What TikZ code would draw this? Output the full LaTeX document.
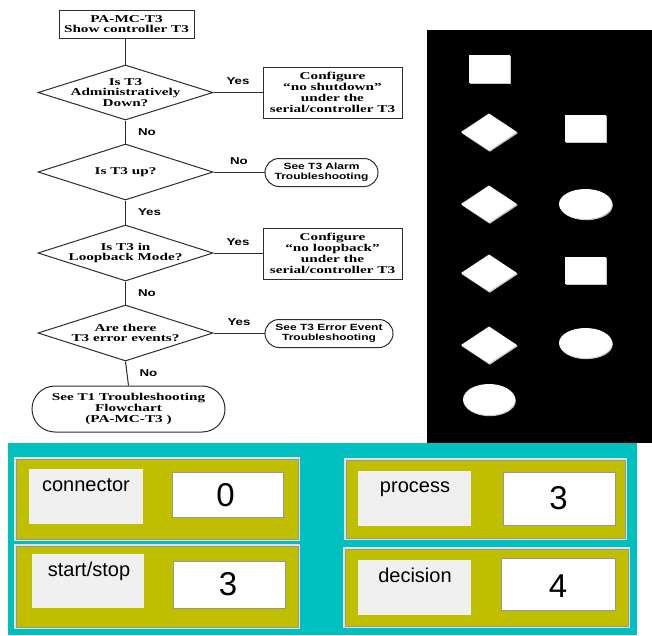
\documentclass[tikz,border=0pt]{standalone}
\usepackage{fontspec}
\usetikzlibrary{shapes.geometric}
\newfontfamily\fcserif[FakeStretch=1.45]{Liberation Serif}
\newfontfamily\fcsans[FakeStretch=1.33]{Liberation Sans}
\newfontfamily\uisans{Liberation Sans}
\definecolor{panelcyan}{RGB}{0,191,191}
\definecolor{panelolive}{RGB}{191,191,0}
\definecolor{labelgray}{RGB}{240,240,240}
\definecolor{flowline}{RGB}{45,45,45}
\definecolor{framegray}{RGB}{150,150,150}
\newcommand\legendrect[2]{%
  \fill[legendshadow] ([shift={(0.8,1.2)}]#1) rectangle ([shift={(0.8,1.2)}]#2);
  \fill[legend] (#1) rectangle (#2);}
\newcommand\legenddiamond[1]{%
  \fill[legendshadow] ([shift={(0.8,1.2)}]#1) +(-28,0) -- +(0,-18.5) -- +(28,0) -- +(0,18.5) -- cycle;
  \fill[legend] (#1) +(-28,0) -- +(0,-18.5) -- +(28,0) -- +(0,18.5) -- cycle;}
\newcommand\legendoval[3]{%
  \fill[legendshadow] ([shift={(0.8,1.2)}]#1) ellipse [x radius=#2, y radius=#3];
  \fill[legend] (#1) ellipse [x radius=#2, y radius=#3];}
\newcommand\counterpanel[6]{%
  \draw[panel] (#1) rectangle (#2);
  \draw[panelinner] ([shift={(1.2,1.2)}]#1) rectangle ([shift={(-1.2,-1.2)}]#2);
  \fill[labelbox] (#3) rectangle (#4);
  \draw[valuebox] (#5) rectangle (#6);}
\begin{document}
\begin{tikzpicture}[x=1pt,y=-1pt,
  flow/.style={draw=flowline, line width=1pt},
  serifbold/.style={font=\fcserif\bfseries\fontsize{10.5}{10.5}\selectfont, align=center},
  sansbold/.style={font=\fcsans\bfseries\fontsize{9}{10}\selectfont, align=center},
  procbox/.style={flow, rectangle, inner sep=0pt, serifbold},
  decision/.style={flow, diamond, aspect=3.18, minimum width=175pt, minimum height=55pt, inner sep=0pt},
  dtext/.style={serifbold, inner sep=0pt},
  termsmall/.style={flow, rectangle, rounded corners=14pt, minimum height=28pt, inner sep=0pt, sansbold},
  termbig/.style={flow, rectangle, rounded corners=23pt, minimum width=193pt, minimum height=46pt, inner sep=0pt, serifbold},
  yn/.style={font=\fcsans\bfseries\fontsize{10}{10}\selectfont, inner sep=1pt},
  legend/.style={fill=white},
  legendshadow/.style={fill=black!22},
  panel/.style={fill=panelolive, draw=white!88!black, line width=1.3pt},
  panelinner/.style={draw=framegray, line width=0.6pt},
  labelbox/.style={fill=labelgray},
  valuebox/.style={fill=white, draw=framegray, line width=1pt},
  uilabel/.style={font=\uisans\fontsize{20}{24}\selectfont, inner sep=0pt, anchor=base},
  uivalue/.style={font=\uisans\fontsize{33}{36}\selectfont, inner sep=0pt}
]
\useasboundingbox (0,0) rectangle (652,635);
\fill[white] (0,0) rectangle (652,635);

% ---------------- flowchart ----------------
\node[procbox, minimum width=135pt, minimum height=28pt] (start) at (126.5,24) {PA-MC-T3\\Show controller T3};

\node[decision, label={[dtext]center:{Is T3\\Administratively\\Down?}}] (d1) at (125.5,92.5) {};
\node[decision, minimum height=56pt, label={[dtext]center:{Is T3 up?}}] (d2) at (125.5,172) {};
\node[decision, minimum height=56pt, label={[dtext]center:{Is T3 in\\Loopback Mode?}}] (d3) at (125.5,253) {};
\node[decision, minimum height=56pt, label={[dtext]center:{Are there\\T3 error events?}}] (d4) at (125.5,333) {};

\node[procbox, minimum width=139pt, minimum height=51pt, font=\fcserif\bfseries\fontsize{10.5}{11}\selectfont] (cfg1) at (332.5,92.5)
  {Configure\\“no shutdown”\\under the\\serial/controller T3};
\node[procbox, minimum width=139pt, minimum height=51pt, font=\fcserif\bfseries\fontsize{10.5}{11}\selectfont] (cfg2) at (332.5,253.5)
  {Configure\\“no loopback”\\under the\\serial/controller T3};

\node[termsmall, minimum width=113pt] (alarm) at (321.5,172.5) {See T3 Alarm\\Troubleshooting};
\node[termsmall, minimum width=128pt] (errev) at (329,333.5) {See T3 Error Event\\Troubleshooting};
\node[termbig, font=\fcserif\bfseries\fontsize{10.5}{11}\selectfont] (t1) at (128.5,409) {See T1 Troubleshooting\\Flowchart\\(PA-MC-T3 )};

\draw[flow] (start.south -| d1.north) -- (d1.north);
\draw[flow] (d1.east) -- node[yn, above=6pt] {Yes} (cfg1.west);
\draw[flow] (d1.south) -- node[yn, right, xshift=11pt] {No} (d2.north);
\draw[flow] (d2.east) -- node[yn, above=6pt] {No} (d2.east -| alarm.west);
\draw[flow] (d2.south) -- node[yn, right, xshift=11pt] {Yes} (d3.north);
\draw[flow] (d3.east) -- node[yn, above=6pt] {Yes} (d3.east -| cfg2.west);
\draw[flow] (d3.south) -- node[yn, right, xshift=11pt] {No} (d4.north);
\draw[flow] (d4.east) -- node[yn, above=6pt] {Yes} (d4.east -| errev.west);
\draw[flow] (d4.south) -- node[yn, right, xshift=11pt] {No} (t1.north);

% ---------------- shape legend ----------------
\fill[black] (427,30) rectangle (652,443);
\legendrect{469,55}{510,83}
\legenddiamond{489,132}
\legendrect{565,115}{606,142}
\legenddiamond{489,204}
\legendoval{585.5,204}{26.5}{15}
\legenddiamond{489,273}
\legendrect{565,257}{606,284}
\legenddiamond{489,345}
\legendoval{585.5,343}{26.5}{15}
\legendoval{489,399.5}{26}{15.5}

% ---------------- counters ----------------
\fill[panelcyan] (8,443) rectangle (637,635);
\counterpanel{15,458}{299,540}{29,469}{143,524}{172,472}{283,517}
\counterpanel{15,545}{299,628}{32,554}{144,608}{173,561}{285,608}
\counterpanel{345,459}{626,539}{358,471}{471,526}{503,472}{615,525}
\counterpanel{344,548}{629,627}{358,560}{471,615}{501,558}{615,610}

\node[uilabel] (lconn) at (86,491.5) {connector};
\node[uilabel] (lstart) at (89,576.5) {start/stop};
\node[uilabel] (lproc) at (415,492) {process};
\node[uilabel] (ldec) at (415,582.5) {decision};

\node[uivalue] (vconn) at (225.5,495.5) {0};
\node[uivalue] (vstart) at (228,584.5) {3};
\node[uivalue] (vproc) at (558.5,498) {3};
\node[uivalue] (vdec) at (558,586) {4};
\end{tikzpicture}
\end{document}
